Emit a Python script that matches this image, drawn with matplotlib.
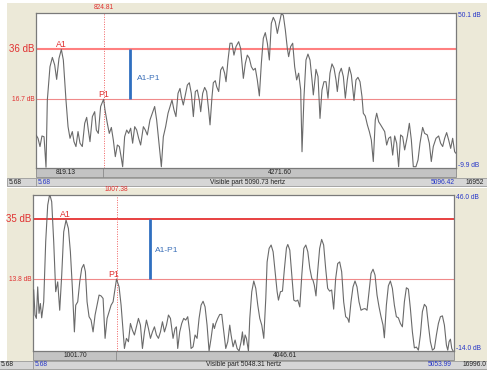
import matplotlib
matplotlib.use("Agg")
import matplotlib.pyplot as plt
from matplotlib.patches import Rectangle

plt.rcParams['font.family'] = ['Liberation Sans', 'DejaVu Sans']

# spectrum 1 (upper panel), Hz / dB
top_freq = [6, 30, 54, 78, 103, 127, 143, 175, 204, 232, 256, 284, 313, 337, 369, 394, 418, 446, 466, 490,
            515, 539, 567, 596, 620, 640, 660, 689, 717, 737, 761, 789, 825, 842, 870, 894, 919, 943, 967, 992,
            1016, 1040, 1056, 1080, 1105, 1129, 1153, 1177, 1202, 1226, 1250, 1274, 1307, 1331, 1355, 1387, 1416, 1444, 1468, 1496,
            1525, 1549, 1577, 1606, 1630, 1654, 1678, 1702, 1727, 1751, 1767, 1791, 1816, 1840, 1864, 1888, 1913, 1937, 1961, 1985,
            2002, 2026, 2050, 2074, 2098, 2115, 2139, 2155, 2179, 2195, 2220, 2244, 2268, 2292, 2309, 2333, 2357, 2381, 2405, 2430,
            2462, 2486, 2519, 2543, 2567, 2591, 2616, 2640, 2664, 2688, 2713, 2737, 2761, 2785, 2810, 2834, 2858, 2882, 2906, 2931,
            2955, 2979, 3003, 3028, 3052, 3068, 3092, 3117, 3141, 3165, 3189, 3214, 3230, 3254, 3278, 3302, 3327, 3351, 3367, 3391,
            3399, 3424, 3448, 3472, 3496, 3521, 3545, 3569, 3593, 3618, 3642, 3658, 3682, 3706, 3731, 3755, 3779, 3803, 3828, 3860,
            3884, 3908, 3933, 3957, 3973, 3997, 4022, 4046, 4070, 4094, 4118, 4135, 4159, 4183, 4207, 4232, 4256, 4280, 4304, 4329,
            4353, 4377, 4401, 4425, 4450, 4474, 4506, 4531, 4555, 4579, 4611, 4636, 4660, 4692, 4716, 4749, 4773, 4797, 4821, 4854,
            4886, 4910, 4935, 4959, 4983, 5007, 5032, 5056, 5080, 5096]
top_db = [2.9, 1.6, -1.6, 2.5, 2.2, -9.6, 16.4, 29.3, 32.9, 30.0, 24.4, 32.5, 36.0, 31.9, 16.4, 6.1, 1.6, 4.2, 0.3, -1.6,
          4.2, -0.3, -1.6, 7.4, 9.7, 4.8, 0.3, 10.0, 11.9, 4.8, 3.5, 13.9, 16.7, 12.6, 7.4, 3.5, 5.8, 0.9, -5.5, -1.0,
          -1.6, -6.1, -9.4, 2.2, 4.8, 3.5, 5.5, -0.3, 6.1, 4.8, 1.6, -1.0, 6.1, 4.8, 2.9, 8.7, 11.3, 13.9, 8.7, -0.3,
          -9.4, 2.2, 6.1, 11.3, 13.9, 16.4, 12.6, 10.0, 19.0, 20.9, 17.7, 14.5, 18.4, 22.2, 23.1, 19.0, 10.0, 19.7, 20.3, 16.4,
          11.9, 19.0, 21.3, 19.7, 12.6, 6.8, 17.7, 23.1, 23.9, 21.6, 19.7, 28.0, 29.3, 26.8, 23.5, 31.9, 38.4, 38.4, 33.8, 37.1,
          39.0, 36.4, 24.8, 30.6, 33.8, 32.6, 29.3, 28.0, 28.7, 24.2, 18.0, 30.6, 40.3, 42.5, 38.4, 31.9, 46.1, 48.4, 46.7, 42.2,
          46.1, 49.7, 49.3, 43.5, 36.4, 33.2, 37.1, 38.4, 29.3, 24.2, 26.8, 20.3, -3.6, 17.7, 31.9, 34.2, 31.9, 24.2, 18.4, 25.5,
          28.3, 25.5, 9.3, 20.3, 23.5, 23.5, 17.1, 26.8, 30.4, 28.7, 24.2, 19.7, 26.8, 28.7, 25.5, 17.1, 24.2, 29.1, 26.1, 16.2,
          24.2, 25.2, 23.5, 17.7, 11.3, 10.2, 6.8, 4.2, 1.0, -7.4, 8.7, 11.3, 8.0, 6.8, 5.5, 4.2, -1.0, 1.6, 2.2, -4.9,
          2.5, -0.3, -9.4, 2.9, 2.2, -2.9, 2.2, 7.4, 1.0, -9.4, -9.4, -6.8, -0.3, 5.8, 3.5, 2.9, -0.3, -7.4, -1.6, 1.6,
          2.5, -0.3, -1.6, 1.6, 3.8, 1.0, -2.3, 1.6, -3.6, -4.2]

# spectrum 2 (lower panel), Hz / dB
bot_freq = [14, 30, 46, 62, 78, 94, 110, 134, 158, 182, 206, 230, 254, 278, 302, 326, 350, 374, 402, 430,
            454, 478, 502, 518, 542, 566, 590, 614, 634, 654, 678, 702, 726, 750, 774, 798, 822, 846, 870, 894,
            918, 942, 966, 990, 1007, 1038, 1062, 1086, 1102, 1126, 1150, 1174, 1198, 1222, 1246, 1270, 1294, 1318, 1342, 1366,
            1390, 1414, 1438, 1462, 1486, 1510, 1534, 1558, 1582, 1606, 1630, 1654, 1685, 1709, 1725, 1741, 1765, 1789, 1813, 1837,
            1861, 1885, 1901, 1925, 1949, 1973, 1997, 2021, 2045, 2069, 2093, 2117, 2141, 2165, 2181, 2197, 2221, 2245, 2269, 2293,
            2317, 2341, 2365, 2381, 2405, 2429, 2453, 2477, 2501, 2517, 2533, 2549, 2565, 2589, 2605, 2629, 2653, 2677, 2701, 2725,
            2749, 2773, 2797, 2813, 2837, 2861, 2885, 2909, 2933, 2949, 2973, 2997, 3021, 3045, 3061, 3085, 3109, 3133, 3157, 3181,
            3205, 3229, 3253, 3277, 3301, 3325, 3349, 3363, 3379, 3399, 3419, 3443, 3467, 3491, 3515, 3539, 3563, 3587, 3611, 3635,
            3659, 3683, 3707, 3731, 3755, 3779, 3795, 3819, 3843, 3867, 3891, 3915, 3939, 3963, 3987, 4011, 4035, 4059, 4083, 4107,
            4131, 4155, 4179, 4203, 4219, 4243, 4267, 4291, 4315, 4339, 4363, 4387, 4411, 4435, 4459, 4483, 4507, 4531, 4555, 4579,
            4603, 4627, 4651, 4675, 4699, 4723, 4747, 4771, 4795, 4819, 4843, 4867, 4891, 4915, 4939, 4963, 4979, 4995, 5011, 5027,
            5043]
bot_db = [9.9, 1.0, -0.2, 11.0, 1.6, 5.1, 0.0, 5.7, 27.1, 40.1, 44.0, 41.3, 27.1, 9.3, 12.8, 2.7, 15.2, 30.6, 34.8, 31.8,
          23.5, 10.5, -5.0, 4.5, 5.7, 12.8, 17.6, 19.0, 16.4, 5.7, 0.4, -0.8, -5.0, 1.0, 4.5, 8.1, 7.8, 6.9, -7.3, -0.2,
          2.2, 4.5, 5.7, 10.5, 13.8, 11.0, 4.5, -5.0, -10.9, -7.3, -8.5, -2.0, -4.4, -6.1, -3.2, -0.2, -2.6, -10.9, -5.0, -0.8,
          -3.8, -7.3, -5.0, -3.2, -6.1, -7.3, -5.0, -1.4, -5.0, -2.6, 1.0, -0.2, -7.3, -3.8, -3.2, -10.9, -5.0, -2.0, -0.2, -0.8,
          0.4, -5.0, -10.9, -10.3, -6.1, -7.3, -0.2, 4.5, 5.9, 3.9, -2.6, -11.8, -7.3, -2.0, -3.8, -2.0, -0.2, 1.2, 1.2, -5.0,
          -10.9, -8.5, -2.6, -6.1, -10.3, -7.9, -10.9, -11.8, -8.5, -5.0, -9.7, -6.1, -7.3, -11.8, -0.2, 9.3, 13.1, 10.5, 4.5, -0.2,
          -2.6, -7.3, 6.9, 19.9, 24.7, 25.9, 23.5, 16.4, 9.3, 6.3, 9.3, 9.5, 17.6, 24.9, 26.1, 24.1, 15.2, 6.3, 5.9, 6.3,
          3.9, 15.2, 24.7, 25.9, 23.5, 17.6, 14.0, 13.4, 11.6, 7.8, 16.4, 24.7, 27.9, 25.9, 17.6, 10.5, 9.5, 9.9, 3.1, 14.0,
          19.3, 19.9, 16.4, 5.7, 0.4, -0.2, -1.6, 5.7, 11.0, 13.1, 11.0, 5.7, 2.7, 3.1, 3.3, 2.7, 9.3, 15.8, 17.3, 15.2,
          8.1, 3.9, 0.4, -2.6, -7.1, 4.5, 11.4, 13.1, 10.5, 4.5, 0.4, 0.0, -2.0, -3.2, 5.7, 10.7, 10.2, 3.3, -5.0, -10.7,
          -10.4, -11.5, -6.1, 2.2, 4.8, 3.9, -2.6, -8.5, -11.5, -10.9, -6.1, -2.0, 0.4, 0.7, -2.6, -9.7, -11.5, -8.5, -7.6, -10.9,
          -11.8]

# markers
top_a1, top_p1, top_cursor = 36.0, 16.7, 824.81
bot_a1, bot_p1, bot_cursor = 35.0, 13.8, 1007.38

W, H = 487, 373
fig = plt.figure(figsize=(W / 100, H / 100), dpi=100, facecolor='white')

ov = fig.add_axes([0, 0, 1, 1])
ov.set_xlim(0, W)
ov.set_ylim(H, 0)
ov.axis('off')


def box(x0, y0, x1, y1, fc, ec='none', lw=0.6):
    ov.add_patch(Rectangle((x0, y0), x1 - x0, y1 - y0, facecolor=fc, edgecolor=ec, linewidth=lw))


def panel_axes(x0, y0, x1, y1):
    ax = fig.add_axes([x0 / W, 1 - y1 / H, (x1 - x0) / W, (y1 - y0) / H])
    ax.set_facecolor('white')
    ax.set_xticks([])
    ax.set_yticks([])
    for s in ax.spines.values():
        s.set_color('#7a7a7a')
        s.set_linewidth(0.9)
    return ax


beige = '#ECE9D8'
bar1 = '#C3C3C3'
bar2 = '#D6D6D6'
blue_txt = '#2535C8'
fs = 4.8

# panel backgrounds
box(7, 3, W, 186, beige)
box(7, 188, W, 370, beige)

# upper panel bars
box(36, 168, 456, 177, bar1, '#8a8a8a')
ov.plot([103, 103], [168, 177], color='#8a8a8a', lw=0.6)
box(7, 177.5, 36, 186, bar2, '#9a9a9a')
box(36, 177.5, W, 186, bar2, '#9a9a9a')
ov.text(66, 172.8, '819.13', fontsize=fs, ha='center', va='center', color='#222222')
ov.text(280, 172.8, '4271.60', fontsize=fs, ha='center', va='center', color='#222222')
ov.text(9, 182, '5.68', fontsize=fs, ha='left', va='center', color='#222222')
ov.text(38, 182, '5.68', fontsize=fs, ha='left', va='center', color=blue_txt)
ov.text(248, 182, 'Visible part 5090.73 hertz', fontsize=fs, ha='center', va='center', color='#222222')
ov.text(455, 182, '5096.42', fontsize=fs, ha='right', va='center', color=blue_txt)
ov.text(466, 182, '16952', fontsize=fs, ha='left', va='center', color='#222222')

# lower panel bars
box(33, 351, 454, 360, bar1, '#8a8a8a')
ov.plot([116, 116], [351, 360], color='#8a8a8a', lw=0.6)
box(-2, 360.5, 33, 369, bar2, '#9a9a9a')
box(33, 360.5, W, 369, bar2, '#9a9a9a')
ov.text(75, 355.5, '1001.70', fontsize=fs, ha='center', va='center', color='#222222')
ov.text(285, 355.5, '4046.61', fontsize=fs, ha='center', va='center', color='#222222')
ov.text(1, 365, '5.68', fontsize=fs, ha='left', va='center', color='#222222')
ov.text(35, 365, '5.68', fontsize=fs, ha='left', va='center', color=blue_txt)
ov.text(244, 365, 'Visible part 5048.31 hertz', fontsize=fs, ha='center', va='center', color='#222222')
ov.text(452, 365, '5053.99', fontsize=fs, ha='right', va='center', color=blue_txt)
ov.text(463, 365, '16996.0', fontsize=fs, ha='left', va='center', color='#222222')


def draw_panel(ax, freq, db, xlim, ylim, a1, p1, cursor, a1_x, p1_x, bar_x, lbl_x, lbl_y,
               a1_color, a1_lw, big_lbl, small_lbl, top_lbl, bot_lbl):
    ax.set_xlim(*xlim)
    ax.set_ylim(*ylim)
    ax.plot(freq, db, color='#6a6a6a', lw=0.8, zorder=3)
    ax.axhline(a1, color=a1_color, lw=a1_lw, zorder=2)
    ax.axhline(p1, color='#F08A8A', lw=0.8, zorder=2)
    ax.axvline(cursor, color='#F06060', lw=0.7, linestyle=(0, (1, 1.5)), zorder=2)
    ax.plot([bar_x, bar_x], [p1, a1], color='#2F6FC0', lw=2, zorder=4, solid_capstyle='butt')
    ax.text(lbl_x, lbl_y, 'A1-P1', color='#3A6FB8', fontsize=6, ha='left', va='center')
    ax.text(a1_x, a1, 'A1', color='#E03030', fontsize=6.3, ha='center', va='bottom')
    ax.text(p1_x, p1, 'P1', color='#E03030', fontsize=6.3, ha='center', va='bottom')
    yt = ax.get_yaxis_transform()
    xt = ax.get_xaxis_transform()
    ax.text(-0.003, a1, big_lbl, transform=yt, color='#E03030', fontsize=7, ha='right', va='center',
            clip_on=False)
    ax.text(-0.003, p1, small_lbl, transform=yt, color='#E03030', fontsize=4.8, ha='right', va='center',
            clip_on=False)
    ax.text(cursor, 1.01, f'{cursor:.2f}', transform=xt, color='#E03030', fontsize=4.8, ha='center',
            va='bottom', clip_on=False)
    ax.text(1.004, 0.985, top_lbl, transform=ax.transAxes, color=blue_txt, fontsize=4.8, ha='left',
            va='center', clip_on=False)
    ax.text(1.004, 0.015, bot_lbl, transform=ax.transAxes, color=blue_txt, fontsize=4.8, ha='left',
            va='center', clip_on=False)


ax1 = panel_axes(36, 13, 456, 168)
draw_panel(ax1, top_freq, top_db, (5.68, 5096.42), (-9.9, 50.1), top_a1, top_p1, top_cursor,
           317, 825, 1145, 1230, 24.8, '#FF8080', 1.5, '36 dB', '16.7 dB', '50.1 dB', '-9.9 dB')

ax2 = panel_axes(33, 195, 454, 351)
draw_panel(ax2, bot_freq, bot_db, (5.68, 5053.99), (-11.8, 43.7), bot_a1, bot_p1, bot_cursor,
           393, 973, 1408, 1470, 24.1, '#E84040', 1.4, '35 dB', '13.8 dB', '46.0 dB', '-14.0 dB')

fig.savefig('out.png', dpi=100, facecolor=fig.get_facecolor())
